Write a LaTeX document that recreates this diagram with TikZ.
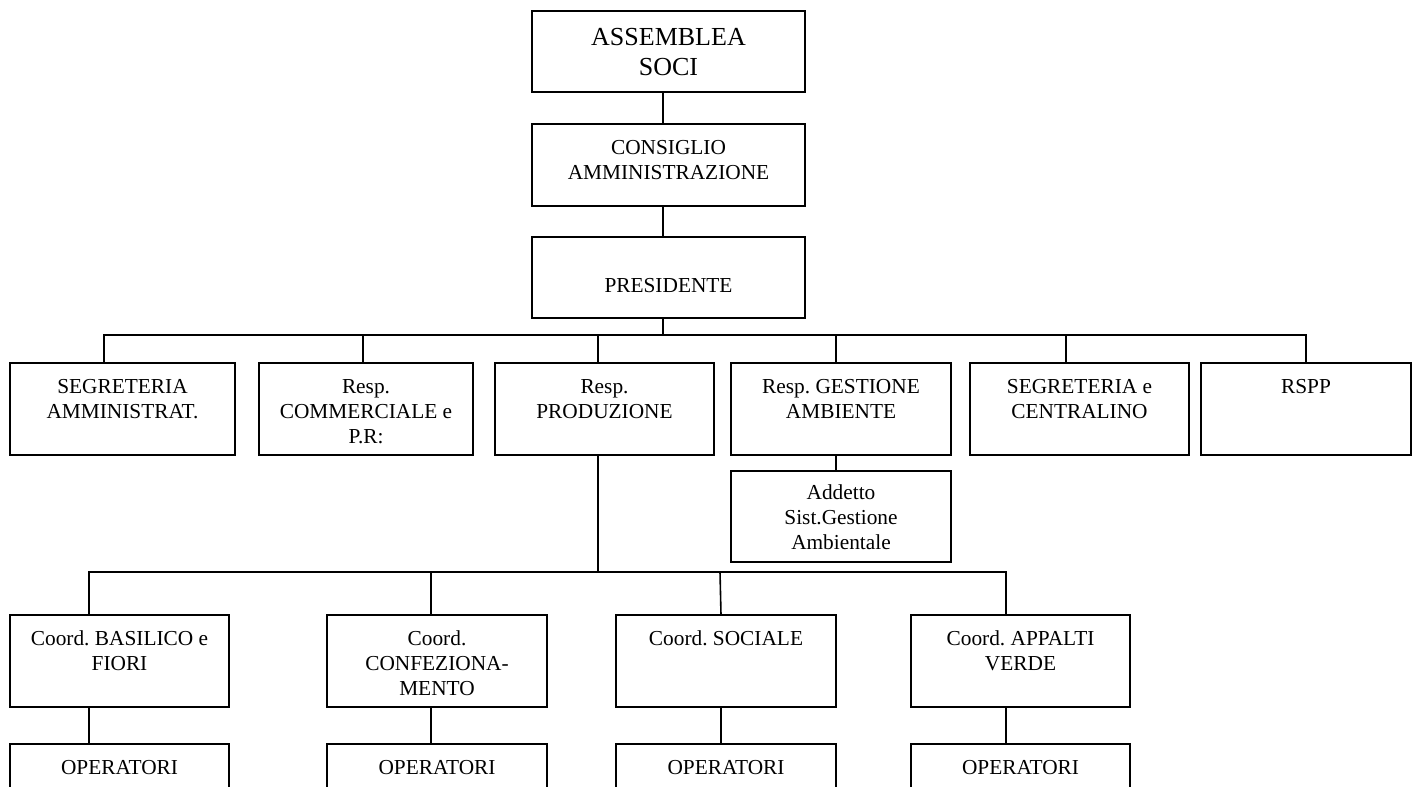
\documentclass[tikz,border=0pt]{standalone}
\usepackage{fontspec}
\setmainfont{Liberation Serif}
\usetikzlibrary{calc}
\frenchspacing
\newcommand\fsn{\fontsize{16pt}{18.75pt}\selectfont}
\newcommand\fsb{\fontsize{19.5pt}{22.5pt}\selectfont}
% #1 width, #2 height, #3 text
\newcommand\orgtxt[3]{\parbox[c][#2][t]{#1}{\fsn\centering\vspace*{10.1pt}\strut #3}}
\newcommand\orgbig[3]{\parbox[c][#2][t]{#1}{\fsb\centering\vspace*{10.5pt}\strut #3}}
\tikzset{
  orgbox/.style={draw=black, line width=1.2pt, inner sep=0pt, outer sep=0pt, anchor=north west},
  link/.style={draw=black, line width=1.2pt}
}
\begin{document}
\begin{tikzpicture}[x=0.75pt, y=-0.75pt]
\useasboundingbox (0,0) rectangle (1413,787);
\clip (0,0) rectangle (1413,787);
% top chain
\node[orgbox] (ASS) at (532,11) {\orgbig{204.75pt}{60.75pt}{ASSEMBLEA\\SOCI}};
\node[orgbox] (CON) at (532,124) {\orgtxt{204.75pt}{61.5pt}{CONSIGLIO\\AMMINISTRAZIONE}};
\node[orgbox] (PRE) at (532,237) {\orgtxt{204.75pt}{60.75pt}{\\PRESIDENTE}};
% row 2
\node[orgbox] (SA) at (10,363) {\orgtxt{168.75pt}{69pt}{SEGRETERIA\\AMMINISTRAT.}};
\node[orgbox] (CO) at (259,363) {\orgtxt{160.5pt}{69pt}{Resp.\\COMMERCIALE e\\P.R:}};
\node[orgbox] (PR) at (495,363) {\orgtxt{164.25pt}{69pt}{Resp.\\PRODUZIONE}};
\node[orgbox] (GE) at (731,363) {\orgtxt{165pt}{69pt}{Resp. GESTIONE\\AMBIENTE}};
\node[orgbox] (CE) at (970,363) {\orgtxt{164.25pt}{69pt}{SEGRETERIA e\\CENTRALINO}};
\node[orgbox] (RS) at (1201,363) {\orgtxt{157.5pt}{69pt}{RSPP}};
\node[orgbox] (AD) at (731,471) {\parbox[c][68.25pt][t]{165pt}{\fsn\centering\vspace*{8.6pt}\strut Addetto\\Sist.Gestione\\Ambientale}};
% row 3
\node[orgbox] (BA) at (10,615) {\orgtxt{164.25pt}{69pt}{Coord. BASILICO e\\FIORI}};
\node[orgbox] (CF) at (327,615) {\orgtxt{165pt}{69pt}{Coord.\\CONFEZIONA-\\MENTO}};
\node[orgbox] (SO) at (616,615) {\orgtxt{165pt}{69pt}{Coord. SOCIALE}};
\node[orgbox] (AP) at (911,615) {\orgtxt{164.25pt}{69pt}{Coord. APPALTI\\VERDE}};
% operatori
\node[orgbox] (O1) at (10,744) {\orgtxt{164.25pt}{66pt}{OPERATORI}};
\node[orgbox] (O2) at (327,744) {\orgtxt{165pt}{66pt}{OPERATORI}};
\node[orgbox] (O3) at (616,744) {\orgtxt{165pt}{66pt}{OPERATORI}};
\node[orgbox] (O4) at (911,744) {\orgtxt{164.25pt}{66pt}{OPERATORI}};
% buses
\coordinate (b1) at (663,335);
\coordinate (b2) at (598,572);
% connectors
\draw[link] (ASS.south -| b1) -- (CON.north -| b1);
\draw[link] (CON.south -| b1) -- (PRE.north -| b1);
\draw[link] (PRE.south -| b1) -- (b1);
\draw[link] ($(SA.north west)+(94,0)$) |- (b1);
\draw[link] ($(CO.north west)+(104,0)$) |- (b1);
\draw[link] ($(PR.north west)+(103,0)$) |- (b1);
\draw[link] ($(GE.north west)+(105,0)$) |- (b1);
\draw[link] ($(CE.north west)+(96,0)$) |- (b1);
\draw[link] ($(RS.north west)+(105,0)$) |- (b1);
\draw[link] ($(GE.south west)+(105,0)$) -- ($(AD.north west)+(105,0)$);
\draw[link] ($(PR.south west)+(103,0)$) -- (b2);
\draw[link] ($(BA.north west)+(79,0)$) |- (b2);
\draw[link] ($(CF.north west)+(104,0)$) |- (b2);
\draw[link] ($(SO.north west)+(105,0)$) -- ($(b2)+(122,0)$) -- (b2);
\draw[link] ($(AP.north west)+(95,0)$) |- (b2);
\draw[link] ($(BA.south west)+(79,0)$) -- ($(O1.north west)+(79,0)$);
\draw[link] ($(CF.south west)+(104,0)$) -- ($(O2.north west)+(104,0)$);
\draw[link] ($(SO.south west)+(105,0)$) -- ($(O3.north west)+(105,0)$);
\draw[link] ($(AP.south west)+(95,0)$) -- ($(O4.north west)+(95,0)$);
\end{tikzpicture}
\end{document}
